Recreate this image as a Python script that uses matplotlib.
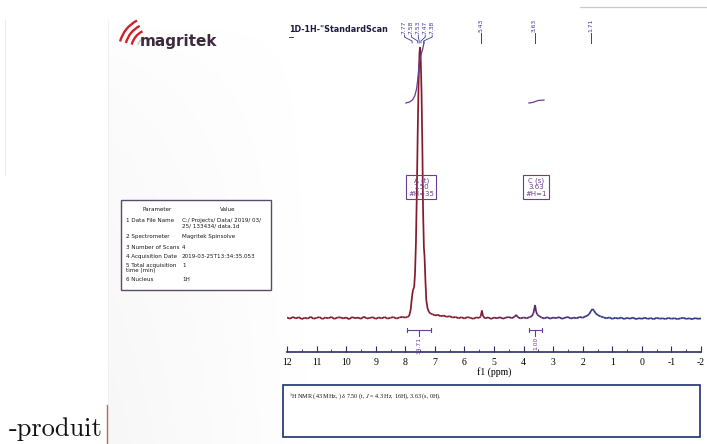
import numpy as np
import matplotlib.pyplot as plt
from matplotlib.collections import LineCollection
from matplotlib.colors import LinearSegmentedColormap, Normalize
from matplotlib.patches import Rectangle, Arc

plt.rcParams['mathtext.fontset'] = 'stix'

# 1H trace: (ppm, height above baseline)
trace = [
    (12.0, 0.5), (11.9, -0.7), (11.8, 1.0), (11.7, -0.4), (11.6, 0.8), (11.5, -1.1),
    (11.4, 0.3), (11.3, -0.6), (11.2, 1.2), (11.1, -0.8), (11.0, 0.2), (10.9, 0.9),
    (10.8, -1.0), (10.7, 0.5), (10.6, -0.3), (10.5, 1.1), (10.4, -0.9), (10.3, 0.4),
    (10.2, 0.7), (10.1, -0.5), (10.0, 0.6), (9.9, -1.2), (9.8, 0.9), (9.7, -0.2),
    (9.6, 0.4), (9.5, -0.8), (9.4, 1.3), (9.3, -0.5), (9.2, 0.1), (9.1, 0.8),
    (9.0, -0.9), (8.9, 0.6), (8.8, -0.4), (8.7, 1.0), (8.6, -0.7), (8.5, 0.3),
    (8.4, 0.9), (8.3, -0.6), (8.2, 0.5), (8.1, 1.1), (8.0, 0.4),
    (7.93, 1.0), (7.87, 2.0), (7.82, 8), (7.77, 22), (7.74, 28), (7.70, 31),
    (7.67, 45), (7.64, 75), (7.61, 125), (7.58, 185), (7.55, 235), (7.52, 265),
    (7.50, 271), (7.48, 262), (7.45, 225), (7.42, 165), (7.40, 110), (7.37, 70),
    (7.35, 62), (7.32, 38), (7.29, 18), (7.25, 10), (7.20, 6), (7.15, 4.5),
    (7.08, 3.8), (7.0, 2.5), (6.9, 3.2), (6.8, 1.8), (6.7, 2.4), (6.6, 1.2), (6.5, 1.8),
    (6.4, 0.4), (6.3, 1.1), (6.2, -0.3), (6.1, 0.8), (6.0, -0.6), (5.9, 0.9),
    (5.8, 0.2), (5.7, -0.8), (5.6, 0.6), (5.5, 0.1),
    (5.45, 1.5), (5.41, 7.5), (5.37, 1.8), (5.3, -0.4),
    (5.2, 0.7), (5.1, -0.9), (5.0, 0.5), (4.9, -0.3), (4.8, 0.8), (4.7, -0.7),
    (4.6, 0.4), (4.5, 1.0), (4.4, -0.2), (4.3, 1.4), (4.25, 3.2), (4.2, 0.9),
    (4.1, -0.5), (4.0, 0.6), (3.9, -0.4), (3.8, 0.9),
    (3.72, 1.8), (3.67, 4.5), (3.63, 10), (3.61, 13), (3.58, 7), (3.54, 3.5),
    (3.48, 2.0), (3.4, 0.6),
    (3.3, -0.5), (3.2, 0.8), (3.1, -0.7), (3.0, 0.5), (2.9, -0.2), (2.8, 0.9),
    (2.7, -0.8), (2.6, 0.3), (2.5, 1.0), (2.4, -0.6), (2.3, 0.4), (2.2, -0.3),
    (2.1, 1.1), (2.0, 0.2),
    (1.92, 1.5), (1.85, 2.2), (1.78, 4), (1.72, 7), (1.67, 9), (1.62, 7.5),
    (1.56, 4.5), (1.48, 2.8), (1.40, 1.6), (1.3, 0.7),
    (1.2, -0.4), (1.1, 0.6), (1.0, -0.9), (0.9, 0.2), (0.8, -0.6), (0.7, 0.5),
    (0.6, -1.0), (0.5, 0.1), (0.4, -0.7), (0.3, 0.4), (0.2, -1.1), (0.1, -0.2),
    (0.0, -0.8), (-0.1, 0.3), (-0.2, -0.9), (-0.3, -0.1), (-0.4, -1.2), (-0.5, 0.2),
    (-0.6, -0.7), (-0.7, -0.3), (-0.8, -1.0), (-0.9, 0.1), (-1.0, -0.8), (-1.1, -0.2),
    (-1.2, -1.1), (-1.3, -0.4), (-1.4, 0.2), (-1.5, -0.9), (-1.6, -0.3), (-1.7, -1.2),
    (-1.8, -0.1), (-1.9, -0.8), (-2.0, -0.5),
]
ppm = np.array([p for p, h in trace])
height = np.array([h for p, h in trace])

# integral curves
integ_a_ppm = [7.98, 7.86, 7.76, 7.68, 7.62, 7.58, 7.53, 7.47, 7.42, 7.36]
integ_a_h = [215, 216, 218, 222, 229, 238, 255, 263, 268, 276]
integ_c_ppm = [3.82, 3.70, 3.60, 3.50, 3.31]
integ_c_h = [215, 215.5, 216.5, 217.5, 218]

# peak picking labels
group_peaks = [7.77, 7.58, 7.53, 7.47, 7.38]
single_peaks = [5.43, 3.63, 1.71]

# integrals (start, end, centre, value)
integrals = [(7.93, 7.13, 7.53, '34.71'), (3.83, 3.36, 3.60, '1.00')]

# multiplets
multiplets = [(7.46, 'A (t)\n7.50\n#H=35'), (3.58, 'C (s)\n3.63\n#H=1')]

ticks = list(range(12, -3, -1))
tick_labels = [str(t) for t in ticks]

params = [
    ('1 Data File Name', 'C:/ Projects/ Data/ 2019/ 03/\n25/ 133434/ data.1d'),
    ('2 Spectrometer', 'Magritek Spinsolve'),
    ('3 Number of Scans', '4'),
    ('4 Acquisition Date', '2019-03-25T13:34:35.053'),
    ('5 Total acquisition\ntime (min)', '1'),
    ('6 Nucleus', '1H'),
]
param_rows_y = [221, 237, 248, 257, 266, 280]

W, H = 707, 444
fig = plt.figure(figsize=(W / 100, H / 100), dpi=100)

# page overlay in pixel coordinates
ov = fig.add_axes([0, 0, 1, 1], zorder=1)
ov.set_xlim(0, W)
ov.set_ylim(H, 0)
ov.axis('off')

# faint scan shading on the left of the page
shade = np.ones((50, 100, 4))
shade[..., :3] = 0.55
shade[..., 3] = np.outer(np.linspace(0.0, 1.0, 50) ** 0.5, np.linspace(0.07, 0.0, 100))
ov.imshow(shade, extent=(108, 320, H, 20), aspect='auto', zorder=0)
ov.plot([107, 107], [405, H], color='#b0704a', lw=1.0)
ov.plot([108, 108], [20, 405], color='#f0f0f0', lw=0.6)
ov.plot([5, 5], [20, 175], color='#e2e2e2', lw=0.5)
ov.plot([580, W], [7, 7], color='#c8c8d2', lw=0.9)

# logo
for r in [21, 27, 33]:
    ov.add_patch(Arc((152, 50), 2 * r, 2 * r, theta1=195, theta2=243,
                     color='#d0202a', lw=1.7))
ov.add_patch(Arc((152, 50), 30, 30, theta1=200, theta2=240, color='#c8c8c8', lw=1.0))
ov.text(140, 46, 'magritek', fontsize=11, fontweight='bold', color='#3d2b3d',
        va='baseline', ha='left')

ov.text(289, 32, '1D-1H-"StandardScan', fontsize=5.8, fontweight='bold',
        color='#1c1c3c', va='baseline', ha='left')
ov.plot([289, 293], [37.5, 37.5], color='#1c1c3c', lw=0.6)

# parameter table
ov.add_patch(Rectangle((121, 200), 150, 90, fc='white', ec='#5c4a6a', lw=1.0))
ov.text(157, 209, 'Parameter', fontsize=4.1, ha='center', va='center', color='#1a1a1a')
ov.text(228, 209, 'Value', fontsize=4.1, ha='center', va='center', color='#1a1a1a')
for (name, val), y in zip(params, param_rows_y):
    ov.text(126, y - 3, name, fontsize=4.1, ha='left', va='top', color='#1a1a1a',
            linespacing=1.1)
    ov.text(182, y - 3, val, fontsize=4.1, ha='left', va='top', color='#1a1a1a',
            linespacing=1.1)

# bottom report box
ov.add_patch(Rectangle((283, 385), 417, 52, fc='white', ec='#1f2f6f', lw=1.2))
ov.text(289, 397, r'$^{1}$H NMR (43 MHz, ) δ 7.50 (t, $J$ = 4.3 Hz, 16H), 3.63 (s, 0H).',
        fontsize=4.4, family='Liberation Serif', va='center', ha='left', color='#111')

ov.text(9, 436, '-produit', fontsize=19, family='cmr10', va='baseline', ha='left',
        color='#111')

# spectrum axes
x_left, x_right = 287, 701
ax = fig.add_axes([x_left / W, 1 - 352 / H, (x_right - x_left) / W, (352 - 20) / H], zorder=2)
ax.patch.set_alpha(0)
ax.set_xlim(12, -2)
ax.set_ylim(-34, 298)

cmap = LinearSegmentedColormap.from_list(
    'nmr', [(0, '#2c3a88'), (0.25, '#303a86'), (0.4, '#5a2a70'), (0.55, '#821c2c'), (1, '#821c2c')])
pts = np.column_stack([ppm, height]).reshape(-1, 1, 2)
segs = np.concatenate([pts[:-1], pts[1:]], axis=1)
lc = LineCollection(segs, cmap=cmap, norm=Normalize(-2, 12), lw=1.25)
lc.set_array((ppm[:-1] + ppm[1:]) / 2)
ax.add_collection(lc)

purple = '#6b3d8e'
ax.plot(integ_a_ppm, integ_a_h, color=purple, lw=0.9, clip_on=False)
ax.plot(integ_c_ppm, integ_c_h, color=purple, lw=0.9, clip_on=False)

label_col = '#3a3a9a'
n = len(group_peaks)
for i, p in enumerate(group_peaks):
    xl = 7.56 + 0.235 * ((n - 1) / 2 - i)
    ax.plot([xl, xl, p, p], [283, 281, 277, 275], color=label_col, lw=0.6, clip_on=False)
    ax.text(xl, 284, f'{p:.2f}', rotation=90, ha='center', va='bottom',
            fontsize=4.3, color=label_col, clip_on=False)
for p in single_peaks:
    ax.plot([p, p], [275, 285], color=label_col, lw=0.7, clip_on=False)
    ax.text(p, 286, f'{p:.2f}', rotation=90, ha='center', va='bottom',
            fontsize=4.3, color=label_col, clip_on=False)

for x0, x1, xc, val in integrals:
    ax.plot([x0, x1], [-12, -12], color=purple, lw=0.8)
    ax.plot([x0, x0], [-10, -14], color=purple, lw=0.8)
    ax.plot([x1, x1], [-10, -14], color=purple, lw=0.8)
    ax.plot([xc, xc], [-12, -18], color=purple, lw=0.8)
    ax.text(xc, -19, val, rotation=90, ha='center', va='top', fontsize=4.3, color=purple)

for xc, txt in multiplets:
    ax.text(xc, 131, txt, ha='center', va='center', fontsize=5, color=purple,
            linespacing=1.05,
            bbox=dict(boxstyle='square,pad=0.3', fc='none', ec=purple, lw=0.8))

for s in ['top', 'left', 'right']:
    ax.spines[s].set_visible(False)
ax.spines['bottom'].set_color('#2a2f6a')
ax.spines['bottom'].set_linewidth(1.2)
ax.set_yticks([])
ax.set_xticks(ticks)
ax.set_xticklabels(tick_labels, family='Liberation Serif', fontsize=7)
ax.set_xticks(np.array(ticks[:-1]) - 0.5, minor=True)
ax.tick_params(axis='x', which='major', direction='in', length=4, width=0.8,
               color='#2a2f6a', pad=4)
ax.tick_params(axis='x', which='minor', direction='in', length=2.5, width=0.6,
               color='#2a2f6a')
ax.set_xlabel('f1 (ppm)', family='Liberation Serif', fontsize=7, labelpad=0)

fig.savefig('out.png', dpi=100)
